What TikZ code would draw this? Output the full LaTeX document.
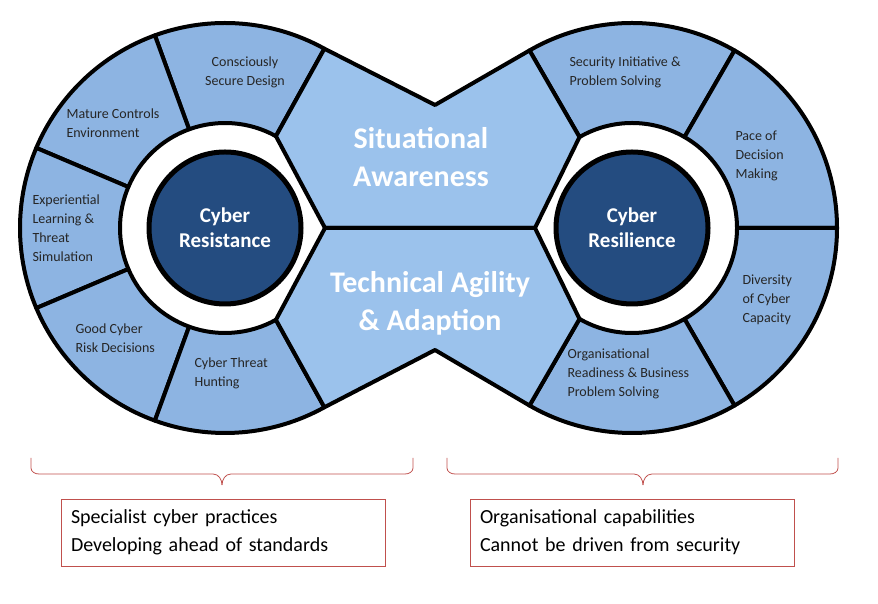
\documentclass[tikz,border=0pt]{standalone}
\usepackage{fontspec}
\setmainfont{Carlito}
\usetikzlibrary{calc}
\begin{document}
\begin{tikzpicture}[x=1pt,y=1pt,
  seg/.style={fill=segblue,draw=black,line width=4pt,line join=round},
  mid/.style={fill=midblue,draw=black,line width=4pt,line join=round},
  core/.style={circle,fill=coreblue,draw=black,line width=5pt,minimum size=152pt,text=white,font=\fontsize{21}{25}\selectfont\bfseries,align=center},
  lbl/.style={font=\fontsize{14}{19}\selectfont,text=black!85},
  big/.style={font=\fontsize{30}{38}\selectfont\bfseries,text=white,align=center},
  brace/.style={draw=bracered,line width=0.8pt},
  box/.style={draw=bracered,line width=0.8pt,minimum width=324pt,minimum height=67pt,font=\fontsize{20}{28}\selectfont,align=left,text width=304pt,inner sep=10pt}]
\definecolor{segblue}{RGB}{141,180,226}
\definecolor{midblue}{RGB}{155,194,236}
\definecolor{coreblue}{RGB}{36,76,128}
\definecolor{bracered}{RGB}{192,80,77}
\useasboundingbox (0,0) rectangle (878,604);
\coordinate (cL) at (225,376);
\coordinate (cR) at (632,376);
% left segments
\foreach \a/\b in {61/110,110/157,157/203,203/250,250/299}{
  \draw[seg] ($(cL)+(\a:205)$) arc[start angle=\a,end angle=\b,radius=205] -- ($(cL)+(\b:105)$) arc[start angle=\b,end angle=\a,radius=105] -- cycle;
}
% right segments
\foreach \a/\b in {60/120,0/60,-60/0,240/300}{
  \draw[seg] ($(cR)+(\a:205)$) arc[start angle=\a,end angle=\b,radius=205] -- ($(cR)+(\b:105)$) arc[start angle=\b,end angle=\a,radius=105] -- cycle;
}
% middle shapes
\coordinate (nt) at (435,499);
\coordinate (nb) at (435,254);
\coordinate (vl) at (325,376);
\coordinate (vr) at (535,376);
\draw[mid] ($(cL)+(61:205)$) -- (nt) -- ($(cR)+(120:205)$) -- ($(cR)+(120:105)$) -- (vr) -- (vl) -- ($(cL)+(61:105)$) -- cycle;
\draw[mid] ($(cL)+(-61:205)$) -- (nb) -- ($(cR)+(240:205)$) -- ($(cR)+(240:105)$) -- (vr) -- (vl) -- ($(cL)+(-61:105)$) -- cycle;
% cores
\node[core] (resist) at (cL) {Cyber\\Resistance};
\node[core] (resil) at (cR) {Cyber\\Resilience};
% big labels
\node[big] (sa) at (421,447) {Situational\\Awareness};
\node[big] (ta) at (430,301) {Technical Agility\\\& Adaption};
% segment labels
\node[lbl,align=center] (csd) at (245,532) {Consciously\\Secure Design};
\node[lbl,align=left,anchor=west] (mce) at (63,481) {Mature Controls\\Environment};
\node[lbl,align=left,anchor=west] (elt) at (29,376) {Experiential\\Learning \&\\Threat\\Simulation};
\node[lbl,align=left,anchor=west] (gcr) at (72,266) {Good Cyber\\Risk Decisions};
\node[lbl,align=left,anchor=west] (cth) at (191,231) {Cyber Threat\\Hunting};
\node[lbl,align=left,anchor=west] (sip) at (566,532) {Security Initiative \&\\Problem Solving};
\node[lbl,align=left,anchor=west] (pdm) at (732,448) {Pace of\\Decision\\Making};
\node[lbl,align=left,anchor=west] (dcc) at (739,304) {Diversity\\of Cyber\\Capacity};
\node[lbl,align=left,anchor=west] (orb) at (564,230) {Organisational\\Readiness \& Business\\Problem Solving};
% braces
\draw[brace] (31,146) -- (31,136) to[out=-90,in=180] (39,130) -- (213,130) to[out=0,in=90] (222,119);
\draw[brace] (222,119) to[out=90,in=180] (231,130) -- (405,130) to[out=0,in=-90] (413,136) -- (413,146);
\draw[brace] (447,146) -- (447,136) to[out=-90,in=180] (455,130) -- (634,130) to[out=0,in=90] (643,119);
\draw[brace] (643,119) to[out=90,in=180] (652,130) -- (830,130) to[out=0,in=-90] (838,136) -- (838,146);
% boxes
\node[box] (bl) at (223,71.5) {Specialist cyber practices\\Developing ahead of standards};
\node[box] (br) at (632,71.5) {Organisational capabilities\\Cannot be driven from security};
\end{tikzpicture}
\end{document}
